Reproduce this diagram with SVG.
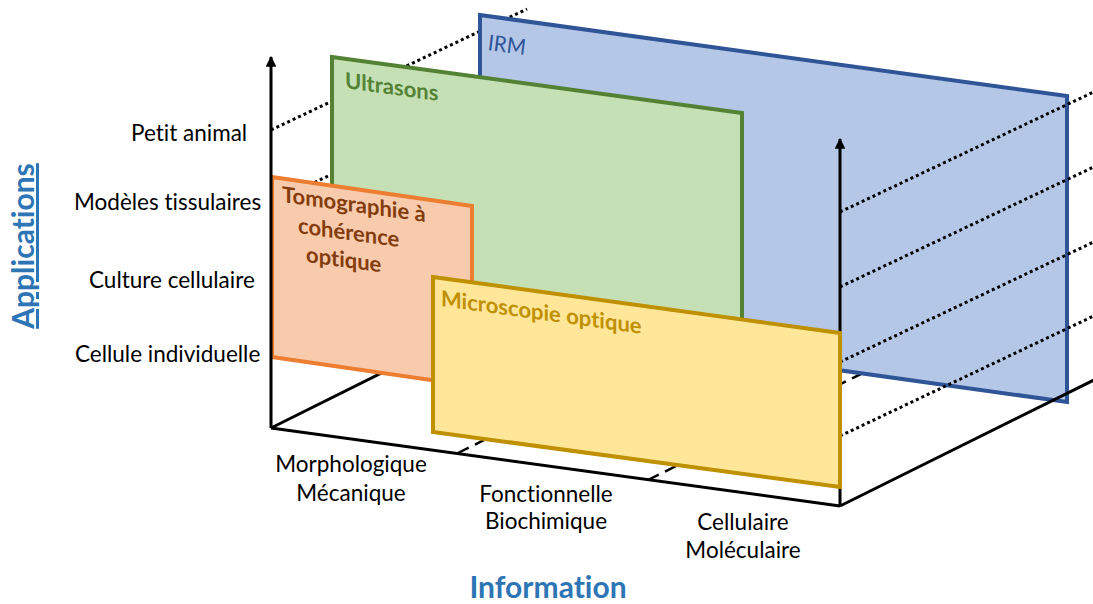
<svg xmlns="http://www.w3.org/2000/svg" width="1093" height="604" viewBox="0 0 1093 604">
<defs>
<style>
text{font-variant-ligatures:none}
.ax{stroke:#000;stroke-width:3;fill:none}
.dot{stroke:#000;stroke-width:3;stroke-dasharray:3 3;fill:none}
.dash{stroke:#000;stroke-width:2.5;stroke-dasharray:12 7;fill:none}
.lbl{font-family:Lato,"Liberation Sans",sans-serif;font-size:22.5px;fill:#000}
.ttl{font-family:Lato,"Liberation Sans",sans-serif;font-size:30px;font-weight:bold;fill:#2e75b6}
.pt{font-family:Lato,"Liberation Sans",sans-serif;font-size:22px;font-weight:bold}
.panel{stroke-width:4;stroke-linejoin:miter}
</style>
<marker id="arr" viewBox="0 0 10 10" refX="9" refY="5" markerWidth="3.6" markerHeight="3.6" orient="auto">
<path d="M0,0 L10,5 L0,10 z" fill="#000"/>
</marker>
</defs>
<rect width="1093" height="604" fill="#fff"/>

<g id="connectors-back">
<line class="ax" x1="271" y1="428" x2="524" y2="302"/>
<line class="dash" x1="458" y1="453" x2="711" y2="327"/>
<line class="dash" x1="648" y1="480" x2="901" y2="354"/>
<line class="dot" x1="271" y1="130" x2="527" y2="9"/>
<line class="dot" x1="271" y1="203" x2="527" y2="82"/>
<line class="dot" x1="271" y1="280" x2="527" y2="159"/>
<line class="dot" x1="271" y1="355" x2="527" y2="234"/>
</g>

<g id="node-irm">
<polygon class="panel" points="480,15 1067,96 1067,402 480,320" fill="#b4c7e7" stroke="#2f5597"/>
<text class="pt" transform="translate(488,50) skewY(7.9)" style="font-weight:normal;font-style:italic" fill="#2f5597">IRM</text>
</g>

<g id="node-ultrasons">
<polygon class="panel" points="332,57 742,113 742,413 332,357" fill="#c5e0b4" stroke="#548235"/>
<text class="pt" transform="translate(345,88) skewY(7.9)" fill="#548235">Ultrasons</text>
</g>

<g id="node-oct">
<polygon class="panel" points="272,177 472,206 472,386 272,357" fill="#f8cbad" stroke="#ed7d31"/>
<text class="pt" transform="translate(282,202) skewY(7.9)" fill="#843c0c">Tomographie à</text>
<text class="pt" transform="translate(298,233) skewY(7.9)" fill="#843c0c">cohérence</text>
<text class="pt" transform="translate(306,262) skewY(7.9)" fill="#843c0c">optique</text>
</g>

<g id="connectors-front">
<line class="ax" x1="840" y1="506" x2="840" y2="139" marker-end="url(#arr)"/>
<line class="dot" x1="840" y1="212" x2="1100" y2="89"/>
<line class="dot" x1="840" y1="287" x2="1100" y2="164"/>
<line class="dot" x1="840" y1="362" x2="1100" y2="239"/>
<line class="dot" x1="840" y1="436" x2="1100" y2="313"/>
<line class="ax" x1="840" y1="506" x2="1100" y2="377"/>
</g>

<g id="node-microscopie">
<polygon class="panel" points="433,277 840,333 840,487 433,432" fill="#ffe699" stroke="#bf9000"/>
<text class="pt" transform="translate(441,306) skewY(7.9)" fill="#bf9000">Microscopie optique</text>
</g>

<g id="axes">
<line class="ax" x1="271" y1="428" x2="271" y2="57" marker-end="url(#arr)"/>
<line class="ax" x1="271" y1="428" x2="840" y2="506"/>
</g>

<g id="labels">
<text class="lbl" x="131" y="141">Petit animal</text>
<text class="lbl" x="74" y="210">Modèles tissulaires</text>
<text class="lbl" x="89" y="288">Culture cellulaire</text>
<text class="lbl" x="75" y="362">Cellule individuelle</text>
<text class="lbl" x="351" y="472" text-anchor="middle">Morphologique</text>
<text class="lbl" x="351" y="501" text-anchor="middle">Mécanique</text>
<text class="lbl" x="546" y="502" text-anchor="middle">Fonctionnelle</text>
<text class="lbl" x="546" y="529" text-anchor="middle">Biochimique</text>
<text class="lbl" x="743" y="530" text-anchor="middle">Cellulaire</text>
<text class="lbl" x="743" y="558" text-anchor="middle">Moléculaire</text>
<text class="ttl" x="548" y="598" text-anchor="middle">Information</text>
<text class="ttl" transform="translate(34,246) rotate(-90)" text-anchor="middle" text-decoration="underline">Applications</text>
</g>
</svg>
